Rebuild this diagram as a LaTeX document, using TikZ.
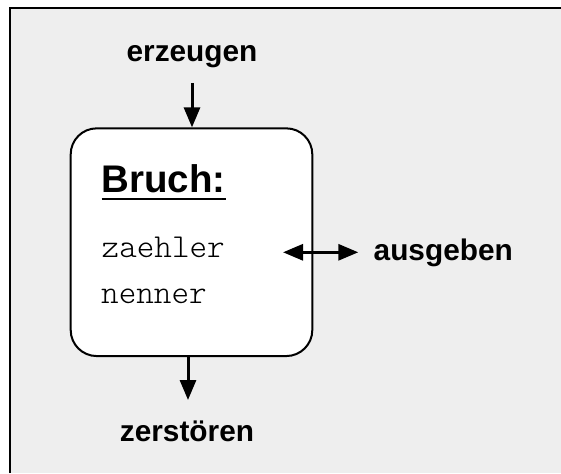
\documentclass[tikz,border=0pt]{standalone}
\usepackage{fontspec}
\setmainfont{Liberation Sans}
\newfontfamily\codefont{lmmonolt10-regular.otf}
\usetikzlibrary{arrows.meta}
\definecolor{panelgray}{HTML}{EEEEEE}
\tikzset{
  label/.style={inner sep=0pt, anchor=base, font=\fontsize{29.8}{34}\selectfont\bfseries},
  field/.style={inner sep=0pt, anchor=base west, font=\codefont\fontsize{33.5}{38}\selectfont},
  flow/.style={line width=3pt, -{Triangle[length=20pt,width=16pt]}},
  biflow/.style={line width=3pt, {Triangle[length=20pt,width=16pt]}-{Triangle[length=20pt,width=16pt]}},
  classbox/.style={draw, fill=white, line width=2pt, rounded corners=26pt,
    minimum width=241.6pt, minimum height=227.7pt, inner sep=0pt}
}
\begin{document}
\begin{tikzpicture}[x=1pt,y=-1pt]
  \useasboundingbox (0,0) rectangle (561,473);
  % panel with top and left frame lines
  \fill[panelgray] (10,8) rectangle (561,473);
  \draw[line width=2.5pt] (10,473) -- (10,8) -- (561,8);

  % class box
  \node[classbox] (box) at (191.5,242.2) {};
  \node[inner sep=0pt, anchor=base west, font=\fontsize{38.5}{43}\selectfont\bfseries]
    (bruch) at (101.5,192.7) {Bruch:};
  \draw[line width=2.5pt] ([yshift=-6.5pt]bruch.base west) -- ([yshift=-6.5pt]bruch.base east);
  \node[field] (zaehler) at (101.5,257) {zaehler};
  \node[field] (nenner) at (101,303) {nenner};

  % operations
  \node[label] (erz) at (192,62) {erzeugen};
  \node[label] (zer) at (187,441) {zerstören};
  \node[label, anchor=base west] (aus) at (373.5,260) {ausgeben};

  \coordinate (inTop) at (192,83);
  \coordinate (outBot) at (188,400);
  \coordinate (ioL) at (283,252.3);
  \coordinate (ioR) at (358.3,252.3);

  \draw[flow] (inTop) -- (inTop |- box.north);
  \draw[flow] (outBot |- box.south) -- (outBot);
  \draw[biflow] (ioL) -- (ioR);
\end{tikzpicture}
\end{document}
